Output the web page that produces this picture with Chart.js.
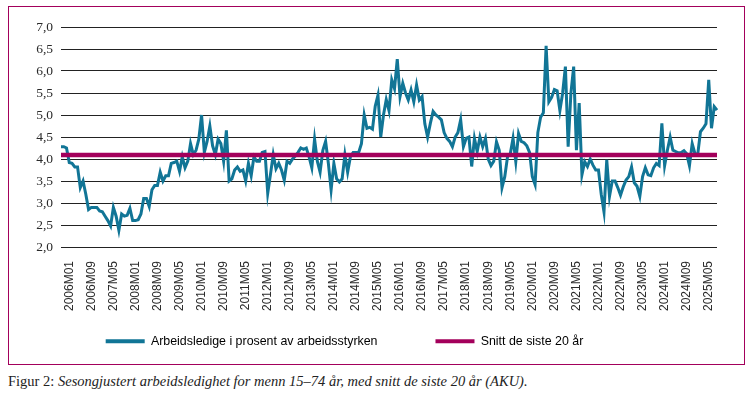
<!DOCTYPE html>
<html>
<head>
<meta charset="utf-8">
<script src="https://cdn.jsdelivr.net/npm/chart.js@4/dist/chart.umd.min.js"></script>
<style>
body{margin:0;background:#fff;width:756px;height:395px;position:relative;overflow:hidden}
#box{position:absolute;left:8px;top:6px;width:737px;height:359px;border:1px solid #a3005b;box-sizing:border-box}
#wrap{position:absolute;left:0;top:0;width:735px;height:357px}
#cap{position:absolute;left:8px;top:373px;font:14.5px "Liberation Serif",serif;color:#222;white-space:nowrap}
#cap i{font-style:italic}
</style>
</head>
<body>
<div id="box"><div id="wrap"><canvas id="c"></canvas></div></div>
<div id="cap">Figur 2: <i>Sesongjustert arbeidsledighet for menn 15–74 år, med snitt de siste 20 år (AKU).</i></div>
<script>
// monthly, 2005M10 .. 2025M08
var firstYear = 2005, firstMonth = 10;

var arbeidsledige = [
	4.28, 4.28, 4.25, 3.92, 3.9, 3.82, 3.82, 3.35, 3.5, 3.2,
	2.85, 2.9, 2.9, 2.9, 2.82, 2.8, 2.7, 2.6, 2.48, 2.9,
	2.7, 2.38, 2.75, 2.7, 2.72, 2.88, 2.6, 2.6, 2.62, 2.75,
	3.1, 3.1, 2.92, 3.3, 3.4, 3.4, 3.7, 3.5, 3.62, 3.62,
	3.9, 3.92, 3.95, 3.72, 4.05, 3.8, 3.95, 4.35, 4.1, 4.2,
	4.45, 5.0, 4.15, 4.4, 4.75, 4.3, 4.1, 4.45, 4.35, 3.95,
	4.65, 3.5, 3.55, 3.75, 3.82, 3.72, 3.75, 3.5, 3.9, 3.62,
	4.05, 3.95, 3.95, 4.15, 4.17, 3.22, 3.65, 4.1, 3.78, 3.9,
	3.75, 3.52, 3.95, 3.9, 4.0, 4.07, 4.15, 4.25, 4.22, 4.25,
	4.05, 3.8, 4.45, 3.95, 3.7, 4.2, 4.4, 3.9, 3.3, 3.9,
	3.55, 3.48, 3.55, 4.1, 3.7, 4.05, 4.15, 4.15, 4.15, 4.35,
	5.0, 4.7, 4.72, 4.68, 5.2, 5.45, 4.5, 5.0, 5.35, 5.1,
	5.8, 5.6, 6.27, 5.42, 5.72, 5.5, 5.34, 5.57, 5.3, 5.68,
	5.34, 5.42, 4.8, 4.5, 4.81, 5.08, 5.0, 4.95, 4.89, 4.6,
	4.47, 4.4, 4.28, 4.5, 4.6, 4.89, 4.28, 4.47, 4.5, 3.83,
	4.47, 4.17, 4.5, 4.28, 4.47, 4.0, 3.85, 3.95, 4.39, 4.2,
	3.35, 3.6, 4.05, 4.12, 4.47, 3.94, 4.58, 4.4, 4.37, 4.3,
	4.15, 3.6, 3.42, 4.6, 4.95, 5.05, 6.57, 5.3, 5.4, 5.58,
	5.55, 5.1, 5.5, 6.1, 4.28, 5.5, 6.1, 4.2, 5.27, 3.64,
	3.94, 3.83, 4.0, 3.86, 3.75, 3.75, 3.2, 2.8, 3.98, 3.15,
	3.5, 3.5, 3.35, 3.18, 3.37, 3.52, 3.6, 3.82, 3.46, 3.38,
	3.15, 3.6, 3.8, 3.64, 3.62, 3.8, 3.9, 3.85, 4.81, 3.85,
	4.2, 4.5, 4.2, 4.17, 4.14, 4.15, 4.19, 4.12, 3.85, 4.35,
	4.12, 4.1, 4.62, 4.7, 4.8, 5.8, 4.7, 5.19, 5.11
];

var snitt = 4.09;

var tickLabels = [
	'2006M01', '2006M09', '2007M05', '2008M01', '2008M09', '2009M05',
	'2010M01', '2010M09', '2011M05', '2012M01', '2012M09', '2013M05',
	'2014M01', '2014M09', '2015M05', '2016M01', '2016M09', '2017M05',
	'2018M01', '2018M09', '2019M05', '2020M01', '2020M09', '2021M05',
	'2022M01', '2022M09', '2023M05', '2024M01', '2024M09', '2025M05'
];

var yTicks = [2.0, 2.5, 3.0, 3.5, 4.0, 4.5, 5.0, 5.5, 6.0, 6.5, 7.0];

var months = [];
for (var k = 0; k < arbeidsledige.length; k++)
{
	var m = firstMonth - 1 + k;
	var yr = firstYear + Math.floor(m / 12);
	var mo = (m % 12) + 1;
	months.push(yr + 'M' + (mo < 10 ? '0' + mo : mo));
}

var blue = '#117596';
var crimson = '#a3005b';

// puts the legend where it is in the original: a bit left, close under the tick labels
var legendPlace = {
	id: 'legendPlace',
	afterLayout: function(chart)
	{
		var lg = chart.legend;
		lg.right -= 37;
		lg.top = 270;
		lg.bottom = chart.height;
	}
};

new Chart(
	document.getElementById('c')
,	{
		type: 'line'
	,	data:
		{
			labels: months
		,	datasets:
			[
				{
					label: 'Snitt de siste 20 år'
				,	data: months.map(function() { return snitt; })
				,	borderColor: crimson
				,	backgroundColor: crimson
				,	borderWidth: 4.5
				,	pointRadius: 0
				}
			,	{
					label: 'Arbeidsledige i prosent av arbeidsstyrken'
				,	data: arbeidsledige
				,	borderColor: blue
				,	backgroundColor: blue
				,	borderWidth: 3
				,	pointRadius: 0
				,	tension: 0
				}
			]
		}
	,	options:
		{
			responsive: true
		,	maintainAspectRatio: false
		,	animation: false
		,	layout: { padding: { left: 0, right: 27, top: 20, bottom: 29 } }
		,	plugins:
			{
				tooltip: { enabled: false }
			,	legend:
				{
					position: 'bottom'
				,	reverse: true
				,	maxHeight: 10
				,	labels:
					{
						boxWidth: 39
					,	boxHeight: 4
					,	padding: 58
					,	color: '#222'
					,	font: { family: 'Liberation Sans', size: 12.4 }
					,	generateLabels: function(chart)
						{
							return chart.data.datasets.map(function(ds, i)
							{
								return { text: ds.label, fillStyle: ds.borderColor, strokeStyle: ds.borderColor, lineWidth: 0, datasetIndex: i };
							});
						}
					}
				}
			}
		,	scales:
			{
				x:
				{
					type: 'category'
				,	grid: { display: false }
				,	border: { display: false }
				,	afterFit: function(scale) { scale.height = 78; }
				,	ticks:
					{
						autoSkip: false
					,	maxRotation: 90
					,	minRotation: 90
					,	padding: 6
					,	color: '#2a2a2a'
					,	font: { family: 'Liberation Sans', size: 12 }
					,	callback: function(v, i)
						{
							return tickLabels.indexOf(months[i]) >= 0 ? months[i] : null;
						}
					}
				}
			,	y:
				{
					min: 2
				,	max: 7
				,	afterFit: function(scale) { scale.width = 52; }
				,	afterBuildTicks: function(scale) { scale.ticks = yTicks.map(function(v) { return { value: v }; }); }
				,	grid: { color: '#222', lineWidth: 1, drawTicks: false }
				,	border: { display: false }
				,	ticks:
					{
						padding: 8
					,	color: '#2a2a2a'
					,	font: { family: 'Liberation Serif', size: 13.5 }
					,	callback: function(v) { return v.toFixed(1).replace('.', ','); }
					}
				}
			}
		}
	,	plugins: [legendPlace]
	}
);
</script>
</body>
</html>
